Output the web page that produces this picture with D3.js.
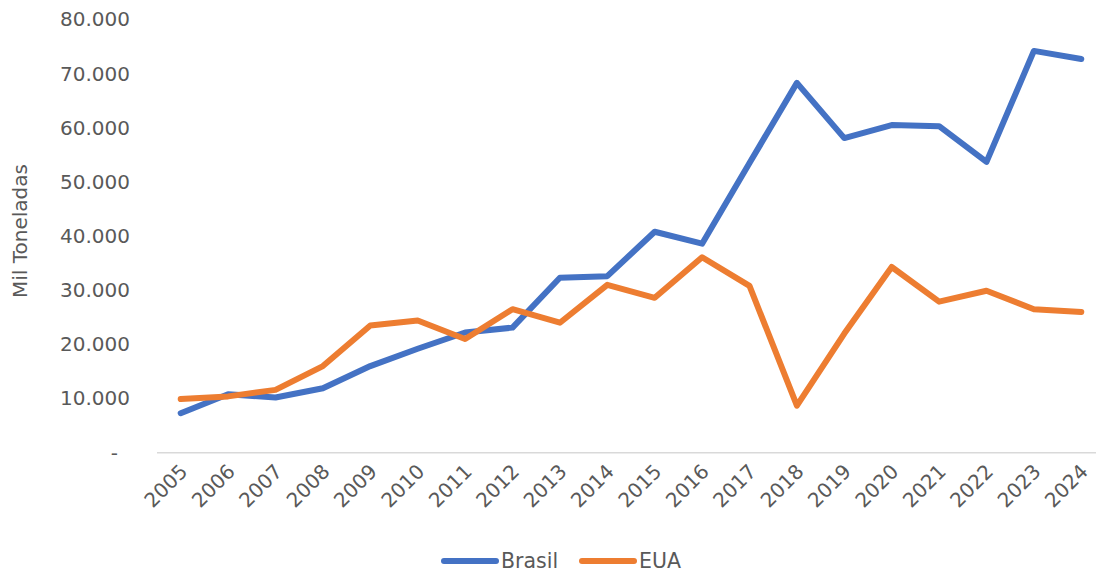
<!DOCTYPE html>
<html>

<head>
    <meta charset='utf-8'>
    <title>Brasil x EUA</title>
    <script type='text/javascript' src='https://cdn.jsdelivr.net/npm/d3@7/dist/d3.min.js'></script>
    <style>
        body { margin: 0; background: #fff; }
        text { font-family: 'DejaVu Sans', sans-serif; fill: #595959; }
    </style>
</head>

<body>
    <svg width='1096' height='574'></svg>
    <script type='text/javascript'>

        const years = ['2005', '2006', '2007', '2008', '2009', '2010', '2011', '2012', '2013', '2014',
            '2015', '2016', '2017', '2018', '2019', '2020', '2021', '2022', '2023', '2024']
        const brasil = [7300, 10800, 10200, 11900, 16000, 19200, 22200, 23100, 32300, 32600,
            40800, 38600, 53500, 68300, 58100, 60500, 60300, 53700, 74200, 72700]
        const eua = [9900, 10400, 11600, 16000, 23500, 24400, 21000, 26500, 24000, 31000,
            28600, 36100, 30800, 8700, 22000, 34300, 27900, 29900, 26500, 26000]
        const yTicks = [0, 10000, 20000, 30000, 40000, 50000, 60000, 70000, 80000]
        const seriesNames = ['Brasil', 'EUA']
        const seriesColors = ['#4472C4', '#ED7D31']

        const svg = d3.select('svg')
        const plot = { left: 157, right: 1105, top: 19.5, bottom: 452.7 }

        const ptBR = d3.formatLocale({ decimal: ',', thousands: '.', grouping: [3], currency: ['', ''] })
        const fmt = ptBR.format(',.0f')

        const x = d3.scaleBand().domain(years).range([plot.left, plot.right]).padding(0)
        const y = d3.scaleLinear().domain([0, 80000]).range([plot.bottom, plot.top])
        const cx = d => x(d) + x.bandwidth() / 2

        // eixo Y (só rótulos)
        const yAxis = svg.append('g')
            .attr('transform', 'translate(130,0)')
            .call(d3.axisLeft(y).tickValues(yTicks).tickSize(0).tickPadding(0)
                .tickFormat(d => d === 0 ? '-' : fmt(d)))
        yAxis.select('.domain').remove()
        yAxis.selectAll('text').attr('font-size', 20).attr('fill', '#595959')
            .attr('x', d => d === 0 ? -12 : 0)

        // linha do eixo X
        svg.append('line')
            .attr('x1', plot.left).attr('x2', plot.right)
            .attr('y1', plot.bottom).attr('y2', plot.bottom)
            .attr('stroke', '#d9d9d9').attr('stroke-width', 1.5)

        // rótulos do eixo X
        svg.append('g').selectAll('text').data(years).enter()
            .append('text')
            .attr('font-size', 20)
            .attr('text-anchor', 'end')
            .attr('transform', d => `translate(${cx(d) - 2},${plot.bottom + 10}) rotate(-45)`)
            .attr('dy', '0.71em')
            .text(d => d)

        // título do eixo Y
        svg.append('text')
            .attr('font-size', 20)
            .attr('text-anchor', 'middle')
            .attr('transform', `translate(27,231) rotate(-90)`)
            .text('Mil Toneladas')

        // linhas
        const line = d3.line().x((d, i) => cx(years[i])).y(d => y(d))
        const allSeries = [brasil, eua]
        svg.append('g').selectAll('path').data(allSeries).enter()
            .append('path')
            .attr('fill', 'none')
            .attr('stroke', (d, i) => seriesColors[i])
            .attr('stroke-width', 6)
            .attr('stroke-linejoin', 'round')
            .attr('stroke-linecap', 'round')
            .attr('d', d => line(d))

        // legenda
        const legendX = [444, 582]
        const legend = svg.append('g').selectAll('g').data(seriesNames).enter()
            .append('g')
            .attr('transform', (d, i) => `translate(${legendX[i]},561)`)
        legend.append('line')
            .attr('x1', 0).attr('x2', 52)
            .attr('stroke', (d, i) => seriesColors[i])
            .attr('stroke-width', 6)
            .attr('stroke-linecap', 'round')
        legend.append('text')
            .attr('x', 57)
            .attr('dy', '0.36em')
            .attr('font-size', 20.5)
            .text(d => d)
    </script>
</body>

</html>
